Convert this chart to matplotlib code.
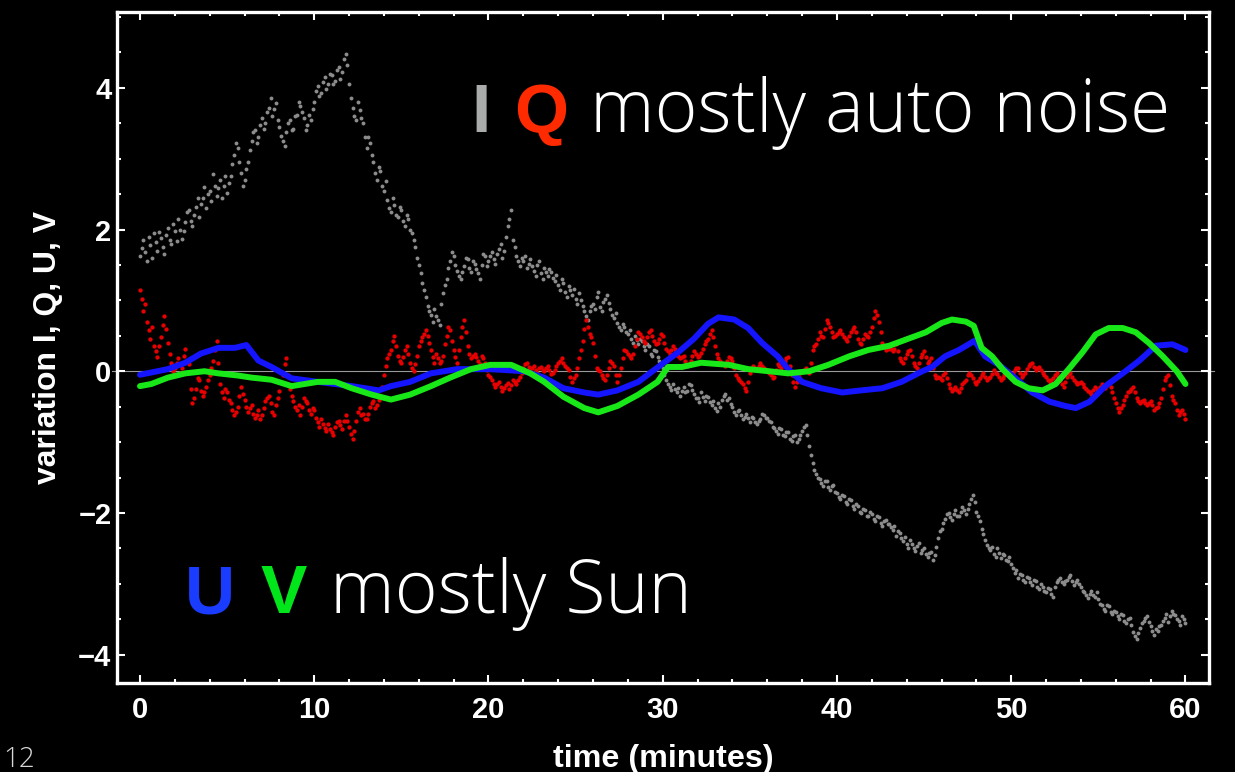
import numpy as np
import matplotlib
matplotlib.use("Agg")
import matplotlib.pyplot as plt
from matplotlib.ticker import MultipleLocator

# ---- data -------------------------------------------------------------
# I and Q sampled every 0.1 minutes from 0 to 60 (one row = one minute)
t_iq = np.linspace(0.0, 60.0, 601)

stokes_i = [
    1.62, 1.74, 1.85, 1.68, 1.55, 1.90, 1.78, 1.60, 1.95, 1.82,
    1.70, 1.96, 1.88, 1.75, 1.66, 1.92, 2.02, 1.85, 1.80, 2.08,
    1.98, 1.84, 2.15, 2.00, 1.86, 1.98, 2.10, 2.25, 2.28, 2.12,
    2.05, 2.20, 2.32, 2.45, 2.18, 2.36, 2.45, 2.60, 2.30, 2.50,
    2.55, 2.40, 2.78, 2.62, 2.48, 2.58, 2.70, 2.45, 2.62, 2.75,
    2.52, 2.66, 2.75, 2.92, 3.05, 3.22, 3.15, 2.95, 2.80, 2.62,
    2.70, 2.85, 2.95, 3.12, 3.25, 3.38, 3.40, 3.22, 3.30, 3.48,
    3.58, 3.42, 3.50, 3.66, 3.72, 3.85, 3.60, 3.70, 3.78, 3.55,
    3.45, 3.32, 3.25, 3.18, 3.38, 3.50, 3.55, 3.40, 3.42, 3.60,
    3.62, 3.80, 3.75, 3.66, 3.58, 3.40, 3.48, 3.62, 3.55, 3.70,
    3.80, 3.95, 4.02, 3.88, 3.92, 4.08, 4.15, 3.98, 4.05, 4.20,
    4.18, 4.05, 4.10, 4.25, 4.30, 4.12, 4.22, 4.40, 4.48, 4.32,
    4.05, 3.85, 3.72, 3.60, 3.55, 3.80, 3.68, 3.58, 3.50, 3.30,
    3.15, 3.30, 3.22, 3.05, 2.95, 2.80, 2.70, 2.88, 2.82, 2.62,
    2.55, 2.68, 2.42, 2.30, 2.25, 2.45, 2.35, 2.20, 2.18, 2.32,
    2.28, 2.12, 2.05, 2.20, 2.15, 2.00, 1.95, 1.85, 1.75, 1.60,
    1.50, 1.38, 1.25, 1.15, 1.05, 0.92, 0.85, 0.80, 0.70, 0.88,
    0.78, 0.72, 0.65, 0.95, 1.10, 1.22, 1.30, 1.45, 1.55, 1.68,
    1.62, 1.50, 1.42, 1.35, 1.30, 1.40, 1.48, 1.60, 1.58, 1.45,
    1.40, 1.55, 1.52, 1.44, 1.38, 1.30, 1.50, 1.65, 1.62, 1.48,
    1.55, 1.62, 1.68, 1.58, 1.52, 1.66, 1.72, 1.80, 1.60, 1.70,
    1.90, 2.05, 2.15, 2.28, 1.85, 1.75, 1.62, 1.55, 1.48, 1.60,
    1.55, 1.62, 1.45, 1.52, 1.58, 1.48, 1.42, 1.35, 1.50, 1.56,
    1.38, 1.30, 1.46, 1.40, 1.35, 1.44, 1.40, 1.32, 1.28, 1.36,
    1.22, 1.15, 1.30, 1.25, 1.12, 1.05, 1.20, 1.14, 1.08, 1.16,
    1.02, 0.95, 1.10, 1.00, 0.92, 0.85, 0.78, 0.72, 0.85, 0.92,
    0.95, 0.88, 1.05, 1.12, 0.90, 0.85, 0.98, 1.02, 1.08, 0.96,
    0.88, 0.80, 0.75, 0.82, 0.68, 0.62, 0.58, 0.66, 0.62, 0.55,
    0.52, 0.58, 0.45, 0.40, 0.50, 0.44, 0.38, 0.46, 0.42, 0.35,
    0.30, 0.38, 0.35, 0.25, 0.22, 0.30, 0.28, 0.20, 0.15, 0.12,
    0.05, -0.05, -0.12, -0.18, -0.22, -0.26, -0.18, -0.25, -0.30, -0.24,
    -0.35, -0.28, -0.22, -0.30, -0.28, -0.18, -0.20, -0.26, -0.32, -0.38,
    -0.38, -0.44, -0.30, -0.36, -0.42, -0.35, -0.36, -0.44, -0.48, -0.42,
    -0.52, -0.56, -0.45, -0.50, -0.40, -0.35, -0.32, -0.40, -0.38, -0.46,
    -0.50, -0.58, -0.62, -0.56, -0.55, -0.62, -0.68, -0.64, -0.60, -0.66,
    -0.72, -0.65, -0.66, -0.72, -0.75, -0.70, -0.68, -0.60, -0.62, -0.66,
    -0.66, -0.70, -0.72, -0.78, -0.80, -0.85, -0.88, -0.80, -0.82, -0.90,
    -0.92, -0.86, -0.86, -0.95, -0.98, -0.92, -0.90, -1.00, -0.96, -0.90,
    -0.85, -0.78, -0.76, -0.90, -1.05, -1.18, -1.30, -1.40, -1.45, -1.50,
    -1.52, -1.58, -1.62, -1.55, -1.55, -1.64, -1.68, -1.62, -1.60, -1.70,
    -1.72, -1.78, -1.80, -1.74, -1.76, -1.84, -1.88, -1.80, -1.82, -1.90,
    -1.94, -1.88, -1.90, -1.98, -2.00, -1.94, -1.96, -2.05, -2.04, -1.98,
    -2.02, -2.08, -2.12, -2.04, -2.06, -2.14, -2.18, -2.12, -2.10, -2.16,
    -2.16, -2.20, -2.24, -2.18, -2.32, -2.26, -2.28, -2.36, -2.40, -2.34,
    -2.44, -2.50, -2.38, -2.44, -2.50, -2.54, -2.46, -2.42, -2.56, -2.52,
    -2.50, -2.58, -2.62, -2.56, -2.55, -2.66, -2.60, -2.48, -2.35, -2.25,
    -2.22, -2.14, -2.08, -2.02, -2.00, -2.06, -2.10, -2.02, -1.96, -2.04,
    -2.04, -1.98, -1.92, -1.96, -2.02, -1.95, -1.88, -1.80, -1.75, -1.85,
    -1.98, -2.05, -2.12, -2.22, -2.30, -2.38, -2.45, -2.50, -2.52, -2.48,
    -2.58, -2.62, -2.50, -2.56, -2.64, -2.58, -2.60, -2.66, -2.68, -2.62,
    -2.72, -2.78, -2.85, -2.80, -2.92, -2.86, -2.88, -2.94, -2.98, -2.90,
    -2.92, -2.98, -3.02, -2.95, -2.96, -3.04, -3.08, -3.00, -3.04, -3.10,
    -3.12, -3.06, -3.08, -3.14, -3.18, -3.05, -2.98, -2.94, -2.92, -2.98,
    -3.00, -2.96, -2.94, -2.90, -2.88, -2.96, -3.02, -2.98, -2.95, -3.00,
    -3.05, -3.10, -3.12, -3.16, -3.20, -3.14, -3.10, -3.16, -3.18, -3.12,
    -3.22, -3.28, -3.30, -3.36, -3.38, -3.30, -3.32, -3.40, -3.42, -3.38,
    -3.40, -3.46, -3.50, -3.42, -3.44, -3.52, -3.56, -3.50, -3.48, -3.58,
    -3.68, -3.74, -3.78, -3.70, -3.62, -3.56, -3.52, -3.48, -3.46, -3.54,
    -3.60, -3.66, -3.72, -3.64, -3.66, -3.60, -3.58, -3.52, -3.48, -3.42,
    -3.54, -3.46, -3.38, -3.42, -3.44, -3.50, -3.52, -3.58, -3.46, -3.50,
    -3.55,
]

stokes_q = [
    1.15, 1.02, 0.85, 0.95, 0.70, 0.58, 0.45, 0.62, 0.35, 0.28,
    0.20, 0.35, 0.48, 0.65, 0.78, 0.60, 0.40, 0.25, 0.12, 0.00,
    0.05, 0.12, 0.18, -0.02, 0.05, 0.22, 0.32, 0.15, 0.10, -0.25,
    -0.45, -0.38, -0.25, -0.10, -0.12, -0.28, -0.35, -0.30, -0.22, -0.12,
    -0.05, 0.05, 0.15, 0.30, 0.42, 0.12, -0.18, -0.30, -0.38, -0.25,
    -0.30, -0.40, -0.45, -0.55, -0.62, -0.58, -0.50, -0.35, -0.22, -0.32,
    -0.40, -0.50, -0.58, -0.52, -0.48, -0.60, -0.66, -0.62, -0.55, -0.68,
    -0.62, -0.52, -0.42, -0.38, -0.35, -0.45, -0.58, -0.62, -0.48, -0.38,
    -0.28, -0.15, -0.05, 0.10, 0.18, -0.05, -0.25, -0.35, -0.42, -0.50,
    -0.55, -0.48, -0.62, -0.50, -0.38, -0.42, -0.45, -0.55, -0.60, -0.52,
    -0.55, -0.66, -0.72, -0.78, -0.68, -0.74, -0.80, -0.85, -0.74, -0.82,
    -0.86, -0.90, -0.78, -0.72, -0.70, -0.76, -0.82, -0.70, -0.62, -0.70,
    -0.78, -0.88, -0.95, -0.85, -0.70, -0.58, -0.52, -0.62, -0.60, -0.68,
    -0.68, -0.60, -0.50, -0.45, -0.42, -0.52, -0.48, -0.40, -0.35, -0.22,
    -0.05, 0.08, 0.18, 0.25, 0.30, 0.42, 0.50, 0.35, 0.22, 0.15,
    0.12, 0.20, 0.30, 0.35, 0.25, 0.12, 0.05, 0.00, 0.10, 0.22,
    0.35, 0.42, 0.48, 0.52, 0.58, 0.50, 0.40, 0.30, 0.20, 0.12,
    0.25, 0.18, 0.12, 0.15, 0.22, 0.38, 0.50, 0.62, 0.58, 0.42,
    0.30, 0.20, 0.12, 0.30, 0.48, 0.62, 0.72, 0.55, 0.35, 0.25,
    0.18, 0.22, 0.25, 0.20, 0.15, 0.10, 0.22, 0.18, 0.12, 0.02,
    -0.05, -0.08, -0.12, -0.18, -0.22, -0.18, -0.15, -0.22, -0.28, -0.24,
    -0.20, -0.16, -0.25, -0.20, -0.12, -0.15, -0.18, -0.12, -0.08, -0.02,
    0.05, 0.10, 0.12, 0.06, 0.02, 0.05, 0.08, 0.02, -0.02, 0.04,
    0.06, 0.02, 0.00, 0.05, 0.08, 0.02, -0.04, -0.02, 0.02, 0.08,
    0.12, 0.15, 0.18, 0.12, 0.08, 0.05, 0.02, -0.08, -0.15, -0.10,
    -0.05, 0.05, 0.18, 0.30, 0.42, 0.60, 0.72, 0.62, 0.52, 0.48,
    0.40, 0.22, 0.05, 0.02, 0.00, -0.05, -0.10, -0.12, -0.05, 0.05,
    0.15, 0.12, 0.08, -0.05, -0.15, -0.05, 0.05, 0.18, 0.30, 0.28,
    0.25, 0.22, 0.18, 0.25, 0.35, 0.45, 0.55, 0.52, 0.48, 0.42,
    0.40, 0.48, 0.55, 0.58, 0.50, 0.42, 0.38, 0.40, 0.45, 0.52,
    0.50, 0.40, 0.32, 0.28, 0.25, 0.30, 0.35, 0.32, 0.28, 0.22,
    0.18, 0.20, 0.22, 0.15, 0.08, 0.10, 0.15, 0.22, 0.28, 0.24,
    0.20, 0.22, 0.26, 0.32, 0.38, 0.42, 0.45, 0.52, 0.58, 0.48,
    0.35, 0.25, 0.18, 0.15, 0.12, 0.10, 0.08, 0.14, 0.20, 0.18,
    0.15, 0.05, -0.05, -0.10, -0.12, -0.15, -0.18, -0.24, -0.28, -0.15,
    -0.02, 0.04, 0.08, 0.05, 0.02, 0.08, 0.12, 0.08, 0.05, 0.02,
    0.02, -0.02, -0.05, -0.10, -0.08, 0.02, 0.10, 0.08, 0.05, 0.10,
    0.15, 0.18, 0.20, 0.08, -0.05, -0.15, -0.22, -0.15, -0.08, -0.02,
    0.00, 0.02, 0.05, 0.00, -0.02, 0.12, 0.30, 0.35, 0.38, 0.45,
    0.55, 0.50, 0.48, 0.60, 0.72, 0.68, 0.62, 0.55, 0.48, 0.50,
    0.52, 0.55, 0.58, 0.52, 0.48, 0.45, 0.42, 0.50, 0.55, 0.60,
    0.62, 0.55, 0.45, 0.40, 0.38, 0.45, 0.52, 0.50, 0.48, 0.55,
    0.62, 0.75, 0.85, 0.80, 0.70, 0.55, 0.40, 0.35, 0.30, 0.32,
    0.36, 0.32, 0.28, 0.32, 0.38, 0.28, 0.18, 0.15, 0.12, 0.18,
    0.25, 0.28, 0.30, 0.22, 0.12, 0.08, 0.05, 0.12, 0.20, 0.24,
    0.28, 0.20, 0.12, 0.15, 0.18, 0.05, -0.05, -0.10, -0.08, -0.10,
    -0.12, -0.06, -0.02, -0.10, -0.18, -0.24, -0.28, -0.25, -0.22, -0.26,
    -0.30, -0.24, -0.18, -0.15, -0.12, -0.06, -0.02, -0.06, -0.10, -0.15,
    -0.18, -0.14, -0.10, -0.05, -0.02, -0.08, -0.12, -0.10, -0.08, -0.04,
    0.02, -0.02, -0.04, -0.08, -0.12, -0.10, -0.06, -0.02, 0.00, -0.04,
    -0.05, -0.02, 0.02, 0.04, 0.05, -0.02, -0.08, -0.05, -0.02, 0.03,
    0.08, 0.10, 0.12, 0.06, 0.02, 0.04, 0.06, 0.02, -0.02, -0.05,
    -0.08, -0.12, -0.15, -0.12, -0.10, -0.05, -0.02, -0.08, -0.12, -0.18,
    -0.22, -0.15, -0.08, -0.04, -0.02, -0.08, -0.12, -0.15, -0.18, -0.16,
    -0.15, -0.18, -0.22, -0.25, -0.28, -0.30, -0.32, -0.26, -0.22, -0.25,
    -0.28, -0.22, -0.18, -0.20, -0.24, -0.20, -0.15, -0.22, -0.30, -0.38,
    -0.45, -0.52, -0.58, -0.52, -0.48, -0.40, -0.35, -0.30, -0.28, -0.25,
    -0.22, -0.30, -0.38, -0.42, -0.45, -0.42, -0.40, -0.45, -0.48, -0.45,
    -0.42, -0.48, -0.55, -0.52, -0.50, -0.45, -0.38, -0.25, -0.12, -0.08,
    -0.05, -0.20, -0.35, -0.40, -0.45, -0.55, -0.62, -0.58, -0.55, -0.60,
    -0.68,
]

# U: smooth trace (minutes, value)
t_u = [0.0, 1.6, 2.6, 3.5, 4.5, 5.45, 6.1, 6.8, 7.55, 8.7, 10.2, 12.15,
       13.7, 14.4, 15.5, 16.7, 18.2, 20.1, 22.05, 23.2, 24.3, 25.5, 26.3,
       27.4, 28.6, 29.9, 30.9, 31.8, 32.6, 33.2, 34.1, 34.9, 35.7, 36.6,
       37.2, 38.0, 39.1, 40.3, 41.4, 42.6, 43.7, 44.9, 45.45, 46.2, 47.0,
       47.9, 48.5, 49.3, 50.2, 51.2, 52.2, 53.1, 53.7, 54.5, 55.4, 56.4,
       57.35, 58.3, 59.25, 60.0]
stokes_u = [-0.05, 0.03, 0.12, 0.25, 0.33, 0.33, 0.37, 0.15, 0.06, -0.10,
            -0.15, -0.21, -0.27, -0.21, -0.15, -0.03, 0.03, 0.03, 0.00,
            -0.09, -0.24, -0.30, -0.33, -0.27, -0.15, 0.09, 0.27, 0.46,
            0.67, 0.76, 0.73, 0.61, 0.40, 0.21, 0.03, -0.15, -0.24, -0.30,
            -0.27, -0.24, -0.15, 0.00, 0.06, 0.21, 0.30, 0.43, 0.21, 0.09,
            -0.09, -0.30, -0.43, -0.49, -0.52, -0.43, -0.21, -0.03, 0.15,
            0.36, 0.38, 0.30]

# V: smooth trace (minutes, value)
t_v = [0.0, 0.65, 1.6, 2.6, 3.7, 4.5, 5.6, 6.4, 7.55, 8.7, 10.2, 11.2,
       12.15, 13.3, 14.4, 15.5, 16.7, 17.8, 19.0, 20.1, 21.3, 22.4, 23.2,
       24.3, 25.5, 26.3, 27.4, 28.6, 29.7, 30.3, 31.1, 32.2, 33.8, 34.9,
       36.1, 37.2, 38.4, 39.5, 40.7, 41.8, 43.0, 44.1, 45.1, 46.0, 46.6,
       47.4, 47.85, 48.3, 48.9, 49.5, 50.25, 51.0, 51.8, 52.55, 53.3, 54.1,
       54.85, 55.6, 56.4, 57.15, 57.9, 58.7, 59.5, 60.0]
stokes_v = [-0.21, -0.18, -0.09, -0.03, 0.00, -0.03, -0.06, -0.09, -0.12,
            -0.21, -0.15, -0.15, -0.24, -0.33, -0.40, -0.33, -0.21, -0.09,
            0.03, 0.09, 0.09, -0.03, -0.15, -0.36, -0.52, -0.58, -0.49,
            -0.33, -0.15, 0.06, 0.06, 0.12, 0.09, 0.03, 0.00, -0.03, 0.00,
            0.09, 0.21, 0.30, 0.36, 0.46, 0.55, 0.68, 0.73, 0.70, 0.64,
            0.33, 0.21, 0.03, -0.15, -0.24, -0.27, -0.18, 0.03, 0.27, 0.52,
            0.61, 0.61, 0.55, 0.40, 0.21, 0.00, -0.18]

x_ticks = [0, 10, 20, 30, 40, 50, 60]
y_ticks = [-4, -2, 0, 2, 4]

# ---- figure -----------------------------------------------------------
W, H = 1235, 772
fig = plt.figure(figsize=(W / 100, H / 100), dpi=100, facecolor="black")
renderer = fig.canvas.get_renderer()


def fx(px):
    return px / W


def fy(py):
    return 1 - py / H


def fit_length(txt, length_px, vertical=False):
    """Rescale a text's font size so that it spans length_px pixels."""
    bb = txt.get_window_extent(renderer=renderer)
    cur = bb.height if vertical else bb.width
    txt.set_fontsize(txt.get_fontsize() * length_px / cur)


ax = fig.add_axes([fx(117), fy(683), fx(1209) - fx(117), fy(12) - fy(683)])
ax.set_facecolor("black")
ax.set_xlim(-1.32, 61.35)
ax.set_ylim(-4.40, 5.07)

# zero axis line of the frame
ax.plot([-1.6, 61.65], [0, 0], color="#9a9a9a", lw=0.8, zorder=1,
        clip_on=False)

ax.plot(t_iq, stokes_i, ls="none", marker="o", ms=2.8, mew=0,
        color="#8c8c8c", zorder=2)
ax.plot(t_iq, stokes_q, ls="none", marker="o", ms=3.1, mew=0,
        color="#e80000", zorder=3)
ax.plot(t_u, stokes_u, color="#1414ff", lw=4.3, solid_capstyle="round",
        zorder=4)
ax.plot(t_v, stokes_v, color="#18e818", lw=4.3, solid_capstyle="round",
        zorder=5)

for side in ("left", "right", "top", "bottom"):
    ax.spines[side].set_color("white")
    ax.spines[side].set_linewidth(2.4)

ax.set_xticks(x_ticks)
ax.set_yticks(y_ticks)
ax.set_yticklabels(["\u22124", "\u22122", "0", "2", "4"])
ax.xaxis.set_minor_locator(MultipleLocator(2))
ax.yaxis.set_minor_locator(MultipleLocator(0.5))
ax.tick_params(which="both", direction="in", colors="white",
               top=True, right=True, width=1.5)
ax.tick_params(which="major", length=5.5)
ax.tick_params(which="minor", length=3)
ax.tick_params(axis="x", which="major", pad=9)
ax.tick_params(axis="y", which="major", pad=4)
for lab in ax.get_xticklabels() + ax.get_yticklabels():
    lab.set_fontfamily("Liberation Sans")
    lab.set_fontweight("bold")
    lab.set_fontsize(21)
    lab.set_color("white")

xl = fig.text(fx(663), fy(767), "time (minutes)", family="Liberation Sans",
              weight="bold", fontsize=22, color="white", ha="center",
              va="baseline")
fit_length(xl, 220)
yl = fig.text(fx(48), fy(347), "variation I, Q, U, V",
              family="Liberation Sans", weight="bold", fontsize=22,
              color="white", ha="center", va="center", rotation=90)
fit_length(yl, 273, vertical=True)

# ---- slide annotations ------------------------------------------------
big = 50
bold = dict(family="Liberation Sans", weight="bold", fontsize=big,
            va="baseline", ha="left")
light = dict(family="Open Sans", weight="light", fontsize=big,
             va="baseline", ha="left", color="white")

fig.text(fx(471), fy(132), "I", color="#a9acaa", **bold)
fig.text(fx(514), fy(132), "Q", color="#ff2a00", **bold)
t1 = fig.text(fx(590), fy(132), "mostly auto noise", **light)
fit_length(t1, 580)

fig.text(fx(185), fy(613), "U", color="#1a3cff", **bold)
fig.text(fx(261), fy(613), "V", color="#00e61a", **bold)
t2 = fig.text(fx(330), fy(613), "mostly Sun", **light)
fit_length(t2, 362)

fig.text(fx(3), fy(746), "12", family="Open Sans", weight="light",
         fontsize=20, color="#d8d8d8", ha="left", va="top")

fig.savefig("out.png", dpi=100, facecolor="black")
